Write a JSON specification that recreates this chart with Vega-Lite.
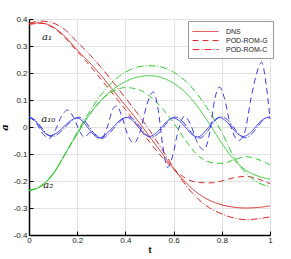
{
  "$schema": "https://vega.github.io/schema/vega-lite/v6.json",
  "width": 241,
  "height": 216,
  "autosize": "none",
  "padding": {"left": 29, "top": 19, "right": 21, "bottom": 24},
  "config": {"view": {"stroke": "#dcdcdc"}, "font": "Liberation Sans"},
  "datasets": {
    "curves": [
      {"t":0,"a":0.38,"m":"a1","s":"DNS"},{"t":0.025,"a":0.385,"m":"a1","s":"DNS"},{"t":0.05,"a":0.385,"m":"a1","s":"DNS"},{"t":0.1,"a":0.37,"m":"a1","s":"DNS"},{"t":0.15,"a":0.335,"m":"a1","s":"DNS"},{"t":0.2,"a":0.285,"m":"a1","s":"DNS"},{"t":0.25,"a":0.24,"m":"a1","s":"DNS"},{"t":0.3,"a":0.19,"m":"a1","s":"DNS"},{"t":0.35,"a":0.135,"m":"a1","s":"DNS"},{"t":0.4,"a":0.08,"m":"a1","s":"DNS"},{"t":0.45,"a":0.025,"m":"a1","s":"DNS"},{"t":0.5,"a":-0.035,"m":"a1","s":"DNS"},{"t":0.55,"a":-0.095,"m":"a1","s":"DNS"},{"t":0.6,"a":-0.155,"m":"a1","s":"DNS"},{"t":0.65,"a":-0.205,"m":"a1","s":"DNS"},{"t":0.7,"a":-0.245,"m":"a1","s":"DNS"},{"t":0.75,"a":-0.272,"m":"a1","s":"DNS"},{"t":0.8,"a":-0.288,"m":"a1","s":"DNS"},{"t":0.85,"a":-0.297,"m":"a1","s":"DNS"},{"t":0.9,"a":-0.3,"m":"a1","s":"DNS"},{"t":0.95,"a":-0.298,"m":"a1","s":"DNS"},{"t":1,"a":-0.292,"m":"a1","s":"DNS"},

      {"t":0,"a":0.38,"m":"a1","s":"POD-ROM-G"},{"t":0.05,"a":0.384,"m":"a1","s":"POD-ROM-G"},{"t":0.1,"a":0.368,"m":"a1","s":"POD-ROM-G"},{"t":0.15,"a":0.33,"m":"a1","s":"POD-ROM-G"},{"t":0.2,"a":0.28,"m":"a1","s":"POD-ROM-G"},{"t":0.25,"a":0.23,"m":"a1","s":"POD-ROM-G"},{"t":0.3,"a":0.175,"m":"a1","s":"POD-ROM-G"},{"t":0.35,"a":0.12,"m":"a1","s":"POD-ROM-G"},{"t":0.4,"a":0.065,"m":"a1","s":"POD-ROM-G"},{"t":0.45,"a":0.005,"m":"a1","s":"POD-ROM-G"},{"t":0.5,"a":-0.055,"m":"a1","s":"POD-ROM-G"},{"t":0.55,"a":-0.11,"m":"a1","s":"POD-ROM-G"},{"t":0.6,"a":-0.155,"m":"a1","s":"POD-ROM-G"},{"t":0.65,"a":-0.19,"m":"a1","s":"POD-ROM-G"},{"t":0.7,"a":-0.205,"m":"a1","s":"POD-ROM-G"},{"t":0.75,"a":-0.207,"m":"a1","s":"POD-ROM-G"},{"t":0.8,"a":-0.2,"m":"a1","s":"POD-ROM-G"},{"t":0.85,"a":-0.188,"m":"a1","s":"POD-ROM-G"},{"t":0.9,"a":-0.183,"m":"a1","s":"POD-ROM-G"},{"t":0.95,"a":-0.192,"m":"a1","s":"POD-ROM-G"},{"t":1,"a":-0.21,"m":"a1","s":"POD-ROM-G"},

      {"t":0,"a":0.383,"m":"a1","s":"POD-ROM-C"},{"t":0.025,"a":0.39,"m":"a1","s":"POD-ROM-C"},{"t":0.05,"a":0.392,"m":"a1","s":"POD-ROM-C"},{"t":0.1,"a":0.385,"m":"a1","s":"POD-ROM-C"},{"t":0.15,"a":0.36,"m":"a1","s":"POD-ROM-C"},{"t":0.2,"a":0.315,"m":"a1","s":"POD-ROM-C"},{"t":0.25,"a":0.27,"m":"a1","s":"POD-ROM-C"},{"t":0.3,"a":0.22,"m":"a1","s":"POD-ROM-C"},{"t":0.35,"a":0.165,"m":"a1","s":"POD-ROM-C"},{"t":0.4,"a":0.108,"m":"a1","s":"POD-ROM-C"},{"t":0.45,"a":0.05,"m":"a1","s":"POD-ROM-C"},{"t":0.5,"a":-0.012,"m":"a1","s":"POD-ROM-C"},{"t":0.55,"a":-0.08,"m":"a1","s":"POD-ROM-C"},{"t":0.6,"a":-0.15,"m":"a1","s":"POD-ROM-C"},{"t":0.65,"a":-0.215,"m":"a1","s":"POD-ROM-C"},{"t":0.7,"a":-0.265,"m":"a1","s":"POD-ROM-C"},{"t":0.75,"a":-0.3,"m":"a1","s":"POD-ROM-C"},{"t":0.8,"a":-0.322,"m":"a1","s":"POD-ROM-C"},{"t":0.85,"a":-0.337,"m":"a1","s":"POD-ROM-C"},{"t":0.9,"a":-0.343,"m":"a1","s":"POD-ROM-C"},{"t":0.95,"a":-0.34,"m":"a1","s":"POD-ROM-C"},{"t":1,"a":-0.333,"m":"a1","s":"POD-ROM-C"},

      {"t":0,"a":-0.235,"m":"a2","s":"DNS"},{"t":0.05,"a":-0.22,"m":"a2","s":"DNS"},{"t":0.1,"a":-0.175,"m":"a2","s":"DNS"},{"t":0.15,"a":-0.1,"m":"a2","s":"DNS"},{"t":0.2,"a":-0.025,"m":"a2","s":"DNS"},{"t":0.25,"a":0.045,"m":"a2","s":"DNS"},{"t":0.3,"a":0.1,"m":"a2","s":"DNS"},{"t":0.35,"a":0.14,"m":"a2","s":"DNS"},{"t":0.4,"a":0.168,"m":"a2","s":"DNS"},{"t":0.45,"a":0.185,"m":"a2","s":"DNS"},{"t":0.5,"a":0.19,"m":"a2","s":"DNS"},{"t":0.55,"a":0.183,"m":"a2","s":"DNS"},{"t":0.6,"a":0.162,"m":"a2","s":"DNS"},{"t":0.65,"a":0.127,"m":"a2","s":"DNS"},{"t":0.7,"a":0.075,"m":"a2","s":"DNS"},{"t":0.75,"a":0.01,"m":"a2","s":"DNS"},{"t":0.8,"a":-0.06,"m":"a2","s":"DNS"},{"t":0.85,"a":-0.12,"m":"a2","s":"DNS"},{"t":0.9,"a":-0.16,"m":"a2","s":"DNS"},{"t":0.95,"a":-0.182,"m":"a2","s":"DNS"},{"t":1,"a":-0.193,"m":"a2","s":"DNS"},

      {"t":0,"a":-0.235,"m":"a2","s":"POD-ROM-G"},{"t":0.05,"a":-0.218,"m":"a2","s":"POD-ROM-G"},{"t":0.1,"a":-0.173,"m":"a2","s":"POD-ROM-G"},{"t":0.15,"a":-0.1,"m":"a2","s":"POD-ROM-G"},{"t":0.2,"a":-0.025,"m":"a2","s":"POD-ROM-G"},{"t":0.25,"a":0.045,"m":"a2","s":"POD-ROM-G"},{"t":0.3,"a":0.1,"m":"a2","s":"POD-ROM-G"},{"t":0.35,"a":0.133,"m":"a2","s":"POD-ROM-G"},{"t":0.4,"a":0.146,"m":"a2","s":"POD-ROM-G"},{"t":0.45,"a":0.14,"m":"a2","s":"POD-ROM-G"},{"t":0.5,"a":0.115,"m":"a2","s":"POD-ROM-G"},{"t":0.55,"a":0.072,"m":"a2","s":"POD-ROM-G"},{"t":0.6,"a":0.015,"m":"a2","s":"POD-ROM-G"},{"t":0.65,"a":-0.05,"m":"a2","s":"POD-ROM-G"},{"t":0.7,"a":-0.105,"m":"a2","s":"POD-ROM-G"},{"t":0.75,"a":-0.13,"m":"a2","s":"POD-ROM-G"},{"t":0.8,"a":-0.135,"m":"a2","s":"POD-ROM-G"},{"t":0.85,"a":-0.122,"m":"a2","s":"POD-ROM-G"},{"t":0.9,"a":-0.11,"m":"a2","s":"POD-ROM-G"},{"t":0.95,"a":-0.12,"m":"a2","s":"POD-ROM-G"},{"t":1,"a":-0.14,"m":"a2","s":"POD-ROM-G"},

      {"t":0,"a":-0.235,"m":"a2","s":"POD-ROM-C"},{"t":0.05,"a":-0.218,"m":"a2","s":"POD-ROM-C"},{"t":0.1,"a":-0.172,"m":"a2","s":"POD-ROM-C"},{"t":0.15,"a":-0.1,"m":"a2","s":"POD-ROM-C"},{"t":0.2,"a":-0.02,"m":"a2","s":"POD-ROM-C"},{"t":0.25,"a":0.055,"m":"a2","s":"POD-ROM-C"},{"t":0.3,"a":0.12,"m":"a2","s":"POD-ROM-C"},{"t":0.35,"a":0.17,"m":"a2","s":"POD-ROM-C"},{"t":0.4,"a":0.203,"m":"a2","s":"POD-ROM-C"},{"t":0.45,"a":0.222,"m":"a2","s":"POD-ROM-C"},{"t":0.5,"a":0.227,"m":"a2","s":"POD-ROM-C"},{"t":0.55,"a":0.222,"m":"a2","s":"POD-ROM-C"},{"t":0.6,"a":0.203,"m":"a2","s":"POD-ROM-C"},{"t":0.65,"a":0.17,"m":"a2","s":"POD-ROM-C"},{"t":0.7,"a":0.12,"m":"a2","s":"POD-ROM-C"},{"t":0.75,"a":0.055,"m":"a2","s":"POD-ROM-C"},{"t":0.8,"a":-0.02,"m":"a2","s":"POD-ROM-C"},{"t":0.85,"a":-0.11,"m":"a2","s":"POD-ROM-C"},{"t":0.9,"a":-0.17,"m":"a2","s":"POD-ROM-C"},{"t":0.95,"a":-0.205,"m":"a2","s":"POD-ROM-C"},{"t":1,"a":-0.222,"m":"a2","s":"POD-ROM-C"},

      {"t":0,"a":0.037,"m":"a10","s":"DNS"},{"t":0.022,"a":0.026,"m":"a10","s":"DNS"},{"t":0.044,"a":0.002,"m":"a10","s":"DNS"},{"t":0.065,"a":-0.022,"m":"a10","s":"DNS"},{"t":0.087,"a":-0.032,"m":"a10","s":"DNS"},{"t":0.115,"a":-0.022,"m":"a10","s":"DNS"},{"t":0.143,"a":0,"m":"a10","s":"DNS"},{"t":0.172,"a":0.023,"m":"a10","s":"DNS"},{"t":0.2,"a":0.033,"m":"a10","s":"DNS"},{"t":0.222,"a":0.022,"m":"a10","s":"DNS"},{"t":0.245,"a":-0.003,"m":"a10","s":"DNS"},{"t":0.268,"a":-0.028,"m":"a10","s":"DNS"},{"t":0.29,"a":-0.04,"m":"a10","s":"DNS"},{"t":0.318,"a":-0.028,"m":"a10","s":"DNS"},{"t":0.347,"a":-0.002,"m":"a10","s":"DNS"},{"t":0.376,"a":0.024,"m":"a10","s":"DNS"},{"t":0.405,"a":0.035,"m":"a10","s":"DNS"},{"t":0.43,"a":0.024,"m":"a10","s":"DNS"},{"t":0.453,"a":0,"m":"a10","s":"DNS"},{"t":0.477,"a":-0.025,"m":"a10","s":"DNS"},{"t":0.5,"a":-0.035,"m":"a10","s":"DNS"},{"t":0.525,"a":-0.024,"m":"a10","s":"DNS"},{"t":0.55,"a":-0.001,"m":"a10","s":"DNS"},{"t":0.575,"a":0.023,"m":"a10","s":"DNS"},{"t":0.6,"a":0.033,"m":"a10","s":"DNS"},{"t":0.625,"a":0.022,"m":"a10","s":"DNS"},{"t":0.65,"a":-0.002,"m":"a10","s":"DNS"},{"t":0.675,"a":-0.027,"m":"a10","s":"DNS"},{"t":0.7,"a":-0.037,"m":"a10","s":"DNS"},{"t":0.722,"a":-0.025,"m":"a10","s":"DNS"},{"t":0.745,"a":-0.001,"m":"a10","s":"DNS"},{"t":0.768,"a":0.024,"m":"a10","s":"DNS"},{"t":0.79,"a":0.035,"m":"a10","s":"DNS"},{"t":0.815,"a":0.024,"m":"a10","s":"DNS"},{"t":0.84,"a":0,"m":"a10","s":"DNS"},{"t":0.865,"a":-0.025,"m":"a10","s":"DNS"},{"t":0.89,"a":-0.035,"m":"a10","s":"DNS"},{"t":0.915,"a":-0.024,"m":"a10","s":"DNS"},{"t":0.94,"a":0,"m":"a10","s":"DNS"},{"t":0.965,"a":0.024,"m":"a10","s":"DNS"},{"t":0.99,"a":0.035,"m":"a10","s":"DNS"},{"t":1,"a":0.034,"m":"a10","s":"DNS"},

      {"t":0,"a":0.037,"m":"a10","s":"POD-ROM-C"},{"t":0.03,"a":0.022,"m":"a10","s":"POD-ROM-C"},{"t":0.05,"a":0,"m":"a10","s":"POD-ROM-C"},{"t":0.073,"a":-0.025,"m":"a10","s":"POD-ROM-C"},{"t":0.095,"a":-0.036,"m":"a10","s":"POD-ROM-C"},{"t":0.123,"a":-0.024,"m":"a10","s":"POD-ROM-C"},{"t":0.151,"a":0,"m":"a10","s":"POD-ROM-C"},{"t":0.18,"a":0.025,"m":"a10","s":"POD-ROM-C"},{"t":0.208,"a":0.036,"m":"a10","s":"POD-ROM-C"},{"t":0.23,"a":0.024,"m":"a10","s":"POD-ROM-C"},{"t":0.253,"a":-0.003,"m":"a10","s":"POD-ROM-C"},{"t":0.276,"a":-0.031,"m":"a10","s":"POD-ROM-C"},{"t":0.298,"a":-0.043,"m":"a10","s":"POD-ROM-C"},{"t":0.326,"a":-0.03,"m":"a10","s":"POD-ROM-C"},{"t":0.355,"a":-0.002,"m":"a10","s":"POD-ROM-C"},{"t":0.384,"a":0.026,"m":"a10","s":"POD-ROM-C"},{"t":0.413,"a":0.038,"m":"a10","s":"POD-ROM-C"},{"t":0.438,"a":0.026,"m":"a10","s":"POD-ROM-C"},{"t":0.461,"a":0,"m":"a10","s":"POD-ROM-C"},{"t":0.485,"a":-0.028,"m":"a10","s":"POD-ROM-C"},{"t":0.508,"a":-0.039,"m":"a10","s":"POD-ROM-C"},{"t":0.533,"a":-0.027,"m":"a10","s":"POD-ROM-C"},{"t":0.558,"a":-0.001,"m":"a10","s":"POD-ROM-C"},{"t":0.583,"a":0.026,"m":"a10","s":"POD-ROM-C"},{"t":0.608,"a":0.037,"m":"a10","s":"POD-ROM-C"},{"t":0.633,"a":0.025,"m":"a10","s":"POD-ROM-C"},{"t":0.658,"a":-0.002,"m":"a10","s":"POD-ROM-C"},{"t":0.683,"a":-0.03,"m":"a10","s":"POD-ROM-C"},{"t":0.708,"a":-0.041,"m":"a10","s":"POD-ROM-C"},{"t":0.73,"a":-0.028,"m":"a10","s":"POD-ROM-C"},{"t":0.753,"a":-0.001,"m":"a10","s":"POD-ROM-C"},{"t":0.776,"a":0.027,"m":"a10","s":"POD-ROM-C"},{"t":0.798,"a":0.039,"m":"a10","s":"POD-ROM-C"},{"t":0.823,"a":0.027,"m":"a10","s":"POD-ROM-C"},{"t":0.848,"a":0,"m":"a10","s":"POD-ROM-C"},{"t":0.873,"a":-0.028,"m":"a10","s":"POD-ROM-C"},{"t":0.898,"a":-0.04,"m":"a10","s":"POD-ROM-C"},{"t":0.923,"a":-0.027,"m":"a10","s":"POD-ROM-C"},{"t":0.948,"a":0,"m":"a10","s":"POD-ROM-C"},{"t":0.973,"a":0.027,"m":"a10","s":"POD-ROM-C"},{"t":1,"a":0.038,"m":"a10","s":"POD-ROM-C"},

      {"t":0,"a":0.037,"m":"a10","s":"POD-ROM-G"},{"t":0.03,"a":0.015,"m":"a10","s":"POD-ROM-G"},{"t":0.06,"a":-0.028,"m":"a10","s":"POD-ROM-G"},{"t":0.085,"a":-0.042,"m":"a10","s":"POD-ROM-G"},{"t":0.11,"a":-0.01,"m":"a10","s":"POD-ROM-G"},{"t":0.135,"a":0.04,"m":"a10","s":"POD-ROM-G"},{"t":0.16,"a":0.063,"m":"a10","s":"POD-ROM-G"},{"t":0.185,"a":0.035,"m":"a10","s":"POD-ROM-G"},{"t":0.21,"a":-0.015,"m":"a10","s":"POD-ROM-G"},{"t":0.23,"a":-0.038,"m":"a10","s":"POD-ROM-G"},{"t":0.255,"a":-0.02,"m":"a10","s":"POD-ROM-G"},{"t":0.28,"a":-0.03,"m":"a10","s":"POD-ROM-G"},{"t":0.3,"a":-0.045,"m":"a10","s":"POD-ROM-G"},{"t":0.325,"a":0,"m":"a10","s":"POD-ROM-G"},{"t":0.35,"a":0.07,"m":"a10","s":"POD-ROM-G"},{"t":0.365,"a":0.078,"m":"a10","s":"POD-ROM-G"},{"t":0.385,"a":0.04,"m":"a10","s":"POD-ROM-G"},{"t":0.41,"a":-0.03,"m":"a10","s":"POD-ROM-G"},{"t":0.435,"a":-0.06,"m":"a10","s":"POD-ROM-G"},{"t":0.46,"a":-0.02,"m":"a10","s":"POD-ROM-G"},{"t":0.49,"a":0.085,"m":"a10","s":"POD-ROM-G"},{"t":0.515,"a":0.13,"m":"a10","s":"POD-ROM-G"},{"t":0.535,"a":0.07,"m":"a10","s":"POD-ROM-G"},{"t":0.555,"a":-0.07,"m":"a10","s":"POD-ROM-G"},{"t":0.575,"a":-0.15,"m":"a10","s":"POD-ROM-G"},{"t":0.595,"a":-0.11,"m":"a10","s":"POD-ROM-G"},{"t":0.62,"a":-0.01,"m":"a10","s":"POD-ROM-G"},{"t":0.645,"a":0.04,"m":"a10","s":"POD-ROM-G"},{"t":0.67,"a":0.01,"m":"a10","s":"POD-ROM-G"},{"t":0.695,"a":-0.05,"m":"a10","s":"POD-ROM-G"},{"t":0.725,"a":-0.085,"m":"a10","s":"POD-ROM-G"},{"t":0.75,"a":-0.02,"m":"a10","s":"POD-ROM-G"},{"t":0.77,"a":0.1,"m":"a10","s":"POD-ROM-G"},{"t":0.79,"a":0.148,"m":"a10","s":"POD-ROM-G"},{"t":0.81,"a":0.11,"m":"a10","s":"POD-ROM-G"},{"t":0.835,"a":0.01,"m":"a10","s":"POD-ROM-G"},{"t":0.87,"a":-0.05,"m":"a10","s":"POD-ROM-G"},{"t":0.895,"a":-0.02,"m":"a10","s":"POD-ROM-G"},{"t":0.92,"a":0.1,"m":"a10","s":"POD-ROM-G"},{"t":0.945,"a":0.2,"m":"a10","s":"POD-ROM-G"},{"t":0.965,"a":0.24,"m":"a10","s":"POD-ROM-G"},{"t":0.985,"a":0.15,"m":"a10","s":"POD-ROM-G"},{"t":1,"a":0.03,"m":"a10","s":"POD-ROM-G"}
    ],
    "labels": [
      {"t":0.075,"a":0.333,"label":"a₁"},
      {"t":0.08,"a":0.03,"label":"a₁₀"},
      {"t":0.08,"a":-0.215,"label":"a₂"}
    ]
  },
  "layer": [
    {
      "data": {"name": "curves"},
      "mark": {"type": "line", "strokeWidth": 1, "interpolate": "monotone"},
      "encoding": {
        "x": {
          "field": "t", "type": "quantitative",
          "scale": {"domain": [0, 1], "nice": false, "zero": false},
          "axis": {
            "orient": "bottom",
            "values": [0, 0.2, 0.4, 0.6, 0.8, 1], "tickCount": 12,
            "format": "~g",
            "title": "t", "titleFontSize": 9, "titleFontWeight": "bold", "titlePadding": 1,
            "grid": true, "gridColor": "#e2e2e2",
            "domainColor": "#000", "domainWidth": 1.5,
            "tickColor": "#000", "tickSize": -4,
            "labelFontSize": 8, "labelColor": "#222", "labelPadding": 5, "labelFlush": false, "labelOverlap": false
          }
        },
        "y": {
          "field": "a", "type": "quantitative",
          "scale": {"domain": [-0.4, 0.4], "nice": false, "zero": false},
          "axis": {
            "orient": "left",
            "values": [-0.4, -0.3, -0.2, -0.1, 0, 0.1, 0.2, 0.3, 0.4], "tickCount": 20,
            "format": "~g",
            "labelExpr": "replace(datum.label, '−', '-')",
            "title": "a", "titleFont": "DejaVu Serif", "titleFontStyle": "italic", "titleFontWeight": "bold", "titleFontSize": 10, "titlePadding": 4,
            "grid": true, "gridColor": "#e2e2e2",
            "domainColor": "#000", "domainWidth": 1.5,
            "tickColor": "#000", "tickSize": -4,
            "labelFontSize": 8, "labelColor": "#222", "labelPadding": 6, "labelFlush": false, "labelOverlap": false
          }
        },
        "color": {
          "field": "m", "type": "nominal",
          "scale": {"domain": ["a1", "a2", "a10"], "range": ["#dd2a2a", "#2ecc2e", "#3a3ae8"]},
          "legend": null
        },
        "strokeDash": {
          "field": "s", "type": "nominal",
          "scale": {"domain": ["DNS", "POD-ROM-G", "POD-ROM-C"], "range": [[1, 0], [6, 4], [7, 2, 1, 2]]},
          "legend": {
            "title": null, "orient": "none", "legendX": 159, "legendY": 2,
            "symbolType": "M-2.6,0L2.6,0", "symbolSize": 100, "symbolOffset": 7,
            "symbolStrokeColor": "#dd2a2a", "symbolStrokeWidth": 1,
            "labelFontSize": 7, "labelColor": "#222", "labelOffset": 15,
            "rowPadding": 0, "padding": 5,
            "strokeColor": "#999", "fillColor": "white"
          }
        }
      }
    },
    {
      "data": {"name": "labels"},
      "mark": {"type": "text", "font": "DejaVu Serif", "fontStyle": "italic", "fontSize": 10, "color": "#111"},
      "encoding": {
        "x": {"field": "t", "type": "quantitative"},
        "y": {"field": "a", "type": "quantitative"},
        "text": {"field": "label"}
      }
    }
  ]
}
